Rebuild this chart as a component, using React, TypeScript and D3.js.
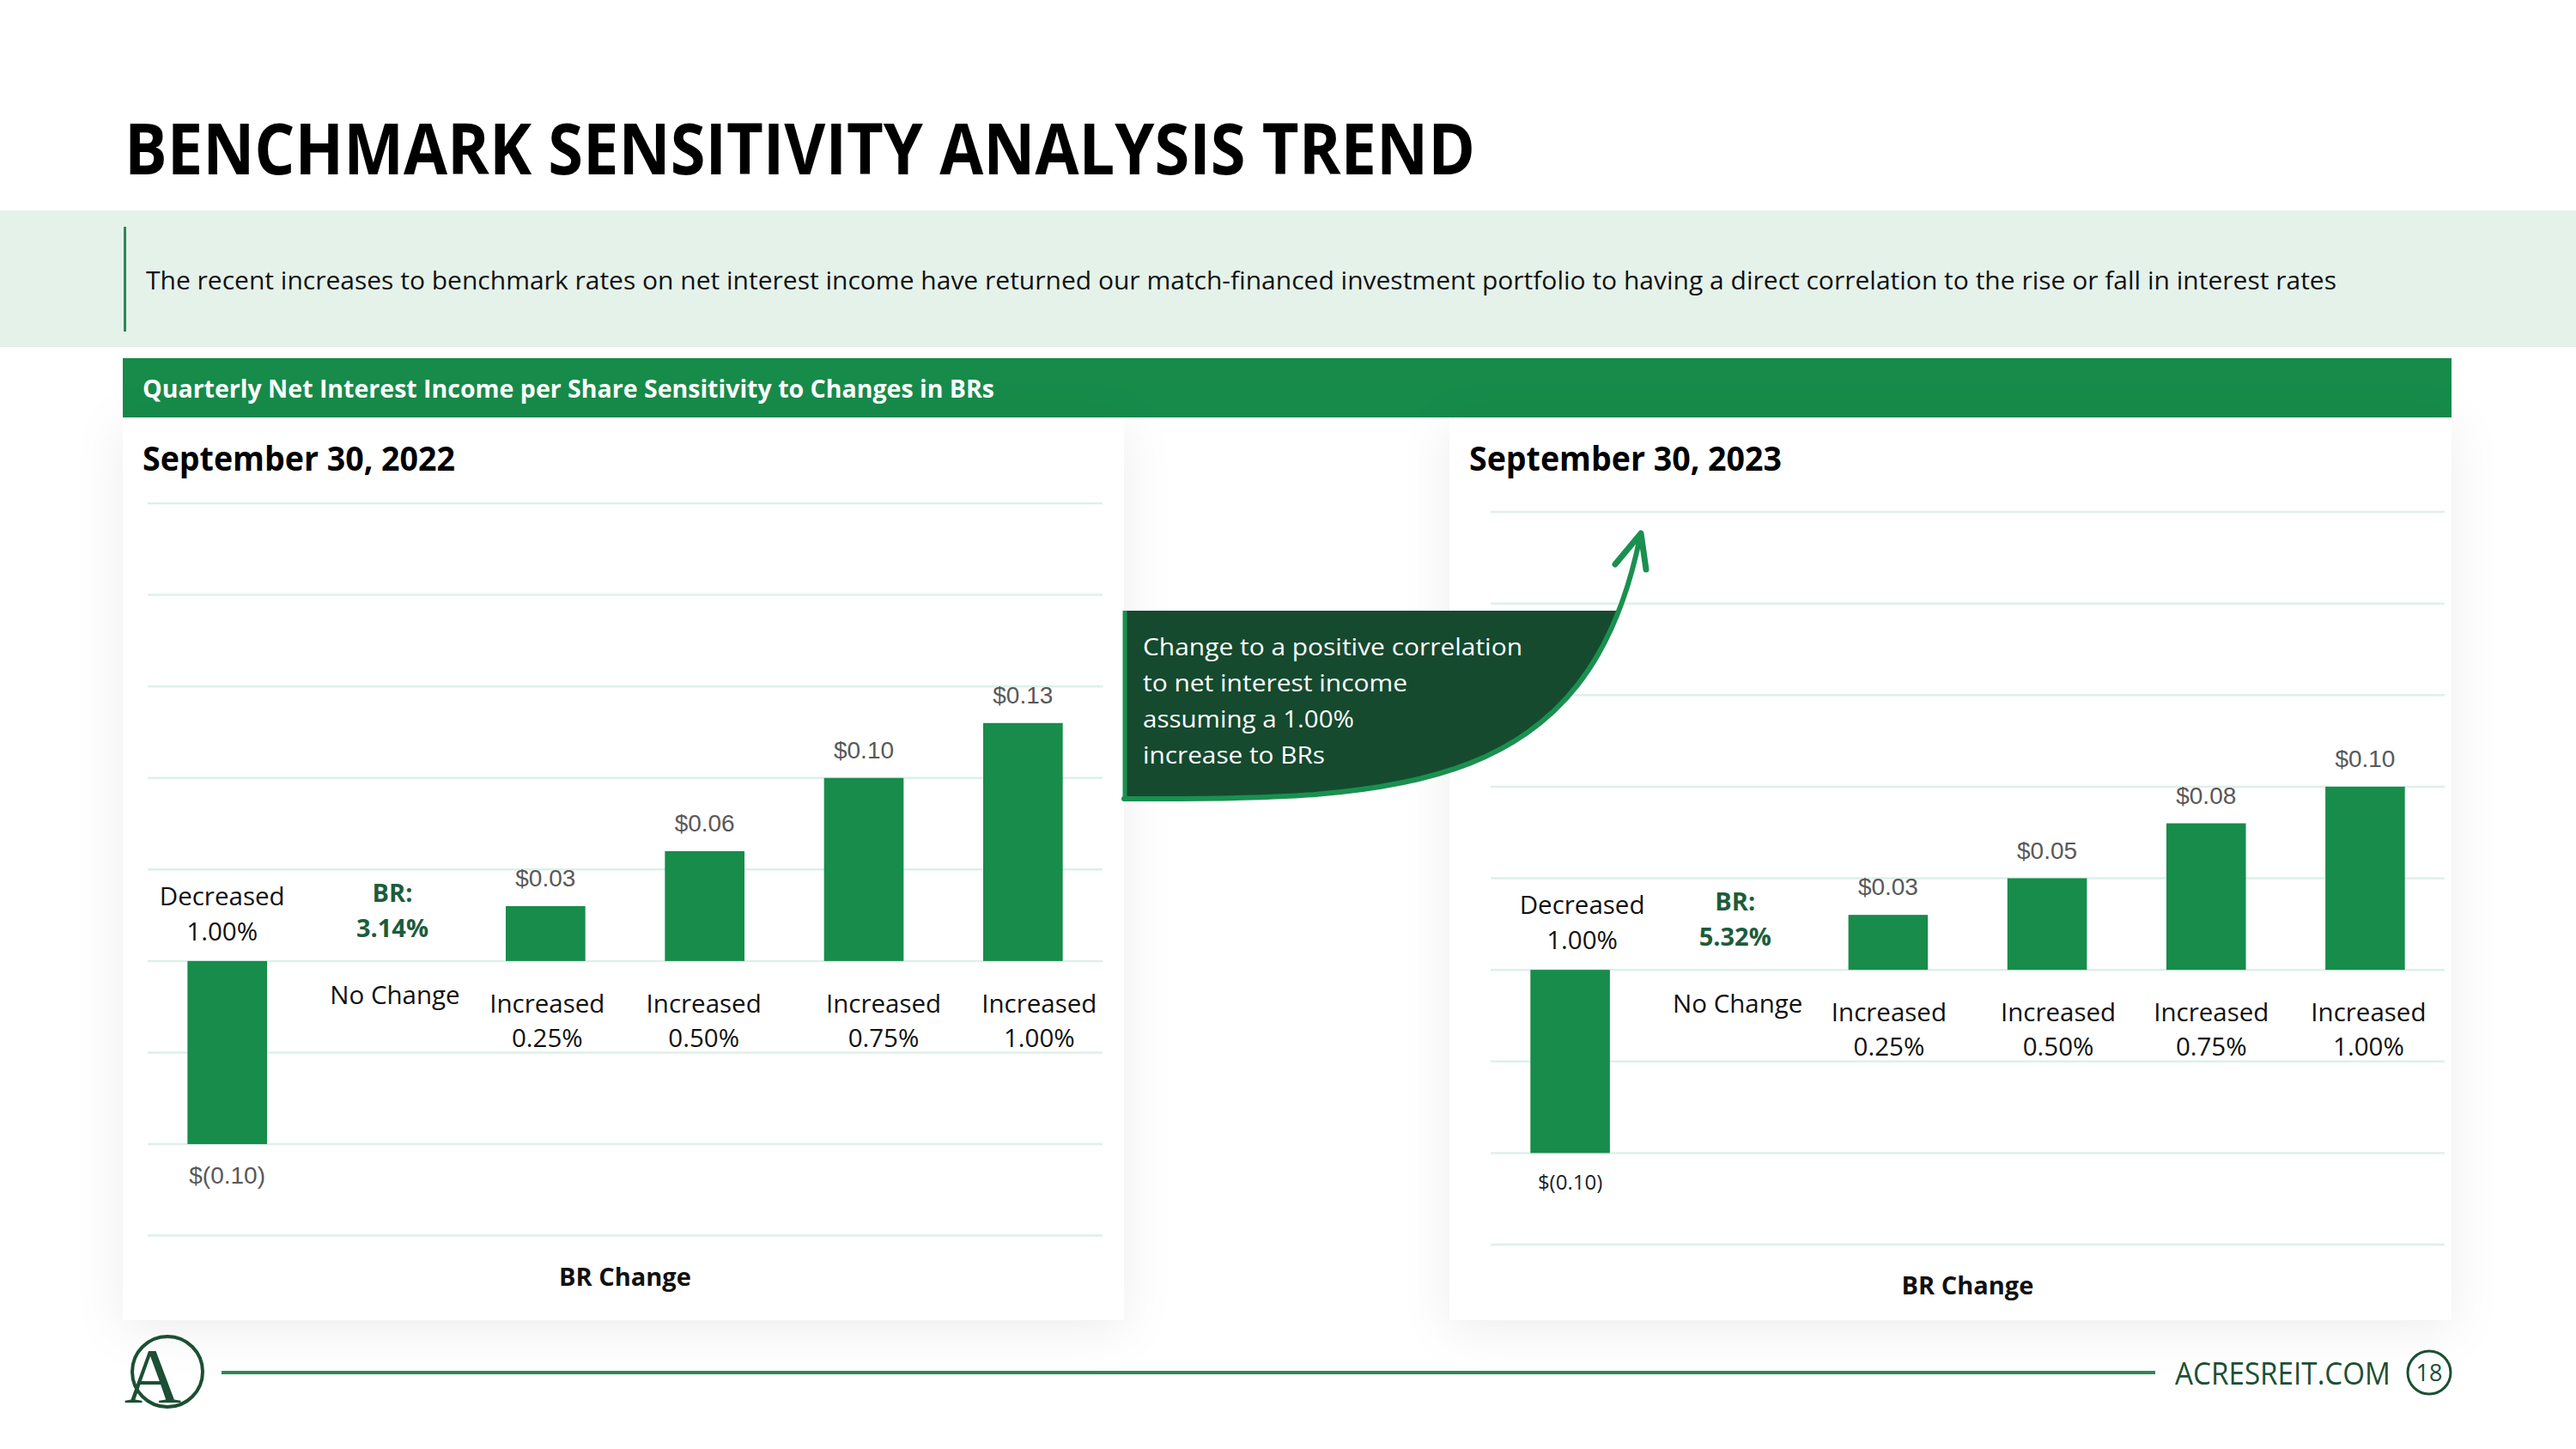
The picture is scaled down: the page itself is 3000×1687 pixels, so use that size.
import * as d3 from 'd3'

const W = 3000
const H = 1687

// chart data
const categories = ['Decreased 1.00%', 'No Change', 'Increased 0.25%', 'Increased 0.50%', 'Increased 0.75%', 'Increased 1.00%']
const categoryLines = [['Decreased', '1.00%'], ['No Change'], ['Increased', '0.25%'], ['Increased', '0.50%'], ['Increased', '0.75%'], ['Increased', '1.00%']]
const values2022 = [-0.10, 0, 0.03, 0.06, 0.10, 0.13]
const values2023 = [-0.10, 0, 0.03, 0.05, 0.08, 0.10]
const baseRates = ['3.14%', '5.32%']
const panelTitles = ['September 30, 2022', 'September 30, 2023']
const yDomain = [-0.15, 0.25]
const calloutLines = ['Change to a positive correlation', 'to net interest income', 'assuming a 1.00%', 'increase to BRs']

// layout: the slide nudges some category labels off the bar centre
const labelShift2022 = [-6, 10, 2, -1, 23, 19]
const labelShift2023 = [14, 10, 1, 13, 6, 4]
const calloutWidths = [442, 308, 246, 212]

const GREEN = '#178c4b'
const DARK = '#1c4f34'
const SANS = '"Open Sans", "Noto Sans", sans-serif'

const fmt = (v: number) => (v < 0 ? `$(${Math.abs(v).toFixed(2)})` : `$${v.toFixed(2)}`)

interface PanelProps {
  box: [number, number]
  gridX: [number, number]
  gridY: [number, number]
  title: string
  titleX: number
  values: number[]
  br: string
  shift: number[]
  negSmall?: boolean
}

function Panel({ box, gridX, gridY, title, titleX, values, br, shift, negSmall }: PanelProps) {
  const x = d3.scaleBand<string>().domain(categories).range(gridX).paddingInner(0.5).paddingOuter(0.25)
  const y = d3.scaleLinear().domain(yDomain).range(gridY)
  const ticks = y.ticks(8)
  const zero = y(0)

  return (
    <g>
      <rect x={box[0]} y={486} width={box[1] - box[0]} height={1051} fill="#fff" filter="url(#shadow)" />
      <text x={titleX} y={548} fontFamily={SANS} fontWeight={700} fontSize={39} textLength={364} lengthAdjust="spacingAndGlyphs" fill="#000">
        {title}
      </text>
      {ticks.map(t => (
        <line key={t} x1={gridX[0]} x2={gridX[1]} y1={y(t)} y2={y(t)} stroke="#ddf0e9" strokeWidth={2.5} />
      ))}
      {categories.map((c, i) => {
        const v = values[i]
        const bx = x(c)!
        const cx = bx + x.bandwidth() / 2
        const lx = cx + shift[i]
        const lines = categoryLines[i]
        return (
          <g key={c}>
            {v !== 0 && (
              <rect x={bx} y={y(Math.max(0, v))} width={x.bandwidth()} height={Math.abs(y(v) - zero)} fill={GREEN} />
            )}
            {v > 0 && (
              <text x={cx} y={y(v) - 23} textAnchor="middle" fontFamily='"Liberation Sans", Arial, sans-serif' fontSize={28} fill="#595959">
                {fmt(v)}
              </text>
            )}
            {v < 0 && (
              <text x={cx} y={y(v) + (negSmall ? 43 : 46)} textAnchor="middle"
                fontFamily={negSmall ? SANS : '"Liberation Sans", Arial, sans-serif'}
                fontSize={negSmall ? 24 : 28} fill={negSmall ? '#222' : '#595959'}>
                {fmt(v)}
              </text>
            )}
            {v < 0 && lines.map((l, j) => (
              <text key={j} x={lx} y={zero - 65 + j * 41} textAnchor="middle" fontFamily={SANS} fontSize={29.5} fill="#111">
                {l}
              </text>
            ))}
            {v === 0 && (
              <g>
                <text x={lx - 3} y={zero - 69} textAnchor="middle" fontFamily={SANS} fontWeight={700} fontSize={29} fill="#1d5c3b">BR:</text>
                <text x={lx - 3} y={zero - 28} textAnchor="middle" fontFamily={SANS} fontWeight={700} fontSize={29} fill="#1d5c3b">{br}</text>
                <text x={lx} y={zero + 50} textAnchor="middle" fontFamily={SANS} fontSize={29.5} fill="#111">{lines[0]}</text>
              </g>
            )}
            {v > 0 && lines.map((l, j) => (
              <text key={j} x={lx} y={zero + 60 + j * 40} textAnchor="middle" fontFamily={SANS} fontSize={29.5} fill="#111">
                {l}
              </text>
            ))}
          </g>
        )
      })}
      <text x={(gridX[0] + gridX[1]) / 2} y={gridY[0] + 58} textAnchor="middle" fontFamily={SANS} fontWeight={700} fontSize={29} fill="#111">
        BR Change
      </text>
    </g>
  )
}

export default function App() {
  // arrow curve of the callout
  const curve = 'M1309,930 C1640,932 1850,920 1910,625'

  return (
    <div style={{ position: 'absolute', left: 0, top: 0 }}>
      <svg width={W} height={H} viewBox={`0 0 ${W} ${H}`} style={{ display: 'block', background: '#fff' }}>
        <defs>
          <filter id="shadow" x="-10%" y="-10%" width="120%" height="125%">
            <feDropShadow dx={0} dy={10} stdDeviation={28} floodColor="#000" floodOpacity={0.07} />
          </filter>
          <clipPath id="calloutClip">
            <rect x={1309} y={711} width={700} height={240} />
          </clipPath>
        </defs>

        <text x={145} y={203} fontFamily={SANS} fontWeight={700} fontSize={82} textLength={1573} lengthAdjust="spacingAndGlyphs" fill="#000">
          BENCHMARK SENSITIVITY ANALYSIS TREND
        </text>

        <rect x={0} y={245} width={W} height={159} fill="#e5f2ea" />
        <rect x={144} y={264} width={3} height={122} fill="#2a8a55" />
        <text x={170} y={337} fontFamily={SANS} fontSize={29} textLength={2551} lengthAdjust="spacingAndGlyphs" fill="#111">
          The recent increases to benchmark rates on net interest income have returned our match-financed investment portfolio to having a direct correlation to the rise or fall in interest rates
        </text>

        <rect x={143} y={417} width={2712} height={69} fill="#168b4a" />
        <text x={166} y={463} fontFamily={SANS} fontWeight={700} fontSize={28} textLength={992} lengthAdjust="spacingAndGlyphs" fill="#fff">
          Quarterly Net Interest Income per Share Sensitivity to Changes in BRs
        </text>

        <Panel box={[143, 1309]} gridX={[172, 1284]} gridY={[1438.6, 586]} title={panelTitles[0]} titleX={166} values={values2022} br={baseRates[0]} shift={labelShift2022} />
        <Panel box={[1688, 2855]} gridX={[1736, 2847]} gridY={[1449, 596]} title={panelTitles[1]} titleX={1711} values={values2023} br={baseRates[1]} shift={labelShift2023} negSmall />

        {/* callout */}
        <path d={`${curve} L1309,600 Z`} fill="#154a2f" clipPath="url(#calloutClip)" />
        <line x1={1310} x2={1310} y1={711} y2={932} stroke="#1a9050" strokeWidth={5} />
        <path d={curve} fill="none" stroke="#1a9050" strokeWidth={6} strokeLinecap="round" />
        <path d="M1881,657 L1911,621 L1917,663" fill="none" stroke="#1a9050" strokeWidth={7} strokeLinecap="round" strokeLinejoin="round" />
        {calloutLines.map((l, i) => (
          <text key={i} x={1331} y={763 + i * 42} fontFamily={SANS} fontSize={28} textLength={calloutWidths[i]} lengthAdjust="spacingAndGlyphs" fill="#fff">
            {l}
          </text>
        ))}

        {/* footer */}
        <line x1={258} x2={2510} y1={1598} y2={1598} stroke="#2b8a56" strokeWidth={4} />
        <circle cx={195} cy={1597} r={41} fill="none" stroke={DARK} strokeWidth={4} />
        <text x={178} y={1633} textAnchor="middle" fontFamily='"Liberation Serif", "DejaVu Serif", serif' fontSize={92} fill={DARK}>A</text>
        <text x={2533} y={1612} fontFamily={SANS} fontSize={36} textLength={251} lengthAdjust="spacingAndGlyphs" fill={DARK}>ACRESREIT.COM</text>
        <circle cx={2829} cy={1598} r={25} fill="none" stroke={DARK} strokeWidth={3} />
        <text x={2829} y={1608} textAnchor="middle" fontFamily={SANS} fontSize={27} fill={DARK}>18</text>
      </svg>
    </div>
  )
}
